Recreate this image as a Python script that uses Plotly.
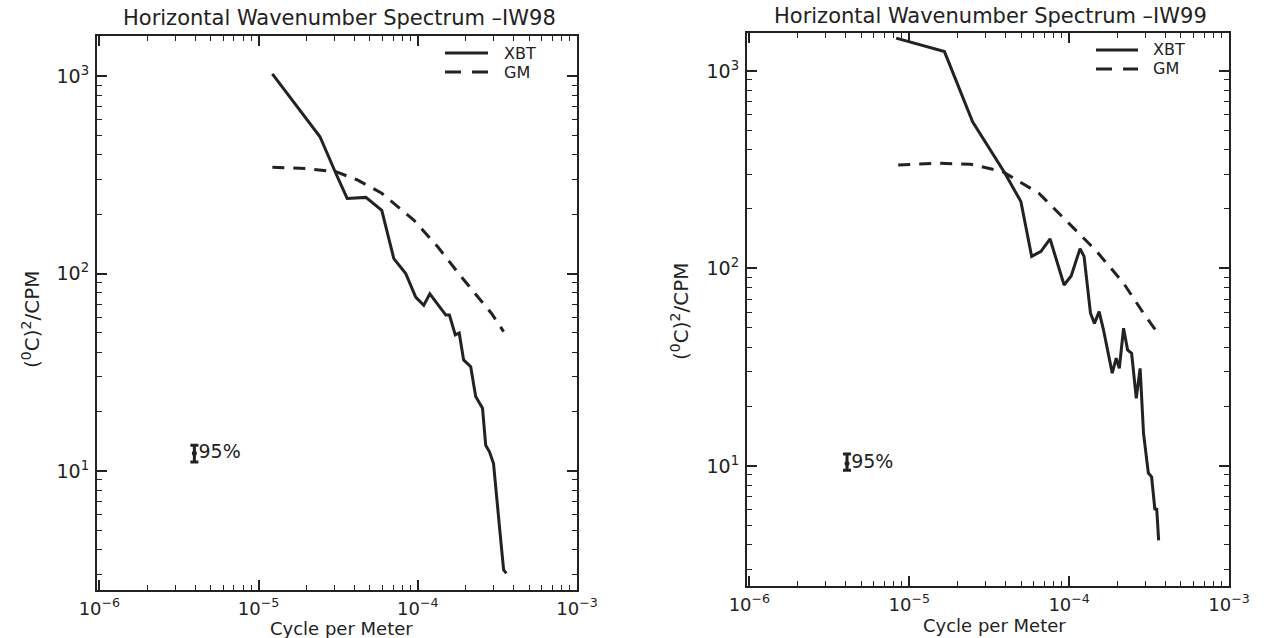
import plotly.graph_objects as go

# ---------------- data ----------------
# IW98 (left panel)
xbt98_k = [1.22e-5, 2.43e-5, 3.06e-5, 3.6e-5, 4.72e-5, 5.94e-5, 7.07e-5, 8.4e-5, 9.7e-5,
           1.09e-4, 1.19e-4, 1.5e-4, 1.58e-4, 1.72e-4, 1.82e-4, 1.94e-4, 2.15e-4, 2.31e-4,
           2.55e-4, 2.67e-4, 2.82e-4, 2.99e-4, 3.26e-4, 3.46e-4, 3.6e-4]
xbt98_s = [1025, 493, 321, 240, 243, 209, 119, 100, 76,
           69, 79, 61.6, 61.6, 48.9, 50, 36.5, 33.7, 23.8,
           20.8, 13.5, 12.5, 10.9, 5.2, 3.15, 3.03]
gm98_k = [1.22e-5, 2.0e-5, 3.06e-5, 4.2e-5, 5.94e-5, 9.4e-5, 1.33e-4, 1.88e-4, 2.9e-4, 3.46e-4]
gm98_s = [345, 340, 328, 297, 255, 187, 137, 96, 62.9, 50.8]

# IW99 (right panel)
xbt99_k = [8.28e-6, 1.66e-5, 2.49e-5, 3.96e-5, 4.99e-5, 5.83e-5, 6.67e-5, 7.6e-5, 9.3e-5,
           1.03e-4, 1.17e-4, 1.24e-4, 1.36e-4, 1.44e-4, 1.54e-4, 1.64e-4, 1.86e-4, 1.97e-4,
           2.06e-4, 2.19e-4, 2.32e-4, 2.46e-4, 2.63e-4, 2.72e-4, 2.78e-4, 2.92e-4, 3.13e-4,
           3.28e-4, 3.44e-4, 3.53e-4, 3.63e-4]
xbt99_s = [1465, 1253, 553, 304, 218, 115, 122, 141, 82.4,
           91.6, 126, 115, 59.3, 52.7, 60.4, 48.9, 29.5, 35.1,
           31.2, 49.8, 38.7, 37.2, 22, 27.2, 31.2, 14.6, 9.2,
           8.8, 6.0, 6.1, 4.2]
gm99_k = [8.53e-6, 1.52e-5, 2.42e-5, 3.84e-5, 6.48e-5, 9.7e-5, 1.46e-4, 2.19e-4, 2.92e-4, 3.53e-4]
gm99_s = [334, 341, 337, 309, 240, 173, 124, 84.2, 59.3, 47.9]

# 95% confidence bars
ci98_k, ci98_s, ci98_up, ci98_dn = [3.95e-6], [12.3], [1.2], [1.2]
ci99_k, ci99_s, ci99_up, ci99_dn = [4.08e-6], [10.3], [1.2], [0.8]

series_names = ["XBT", "GM"]
titles = ["Horizontal Wavenumber Spectrum \u2013IW98", "Horizontal Wavenumber Spectrum \u2013IW99"]
x_title = "Cycle per Meter"
y_title = "(<sup>0</sup>C)<sup>2</sup>/CPM"
ci_label = "95%"
x_tickvals = [1e-6, 1e-5, 1e-4, 1e-3]
x_ticktext = ["10<sup>\u22126</sup>", "10<sup>\u22125</sup>", "10<sup>\u22124</sup>", "10<sup>\u22123</sup>"]
y_tickvals = [10, 100, 1000]
y_ticktext = ["10<sup>1</sup>", "10<sup>2</sup>", "10<sup>3</sup>"]

# ---------------- figure ----------------
INK = "#222222"
FONT = "DejaVu Sans, Verdana, sans-serif"
W, H = 1267, 638
fig = go.Figure()

panels = [
    dict(xa="x", ya="y", xk=xbt98_k, xs=xbt98_s, gk=gm98_k, gs=gm98_s,
         ck=ci98_k, cs=ci98_s, cu=ci98_up, cd=ci98_dn),
    dict(xa="x2", ya="y2", xk=xbt99_k, xs=xbt99_s, gk=gm99_k, gs=gm99_s,
         ck=ci99_k, cs=ci99_s, cu=ci99_up, cd=ci99_dn),
]
for p in panels:
    fig.add_trace(go.Scatter(x=p["xk"], y=p["xs"], mode="lines", name=series_names[0],
                             line=dict(color=INK, width=3), xaxis=p["xa"], yaxis=p["ya"],
                             showlegend=False))
    fig.add_trace(go.Scatter(x=p["gk"], y=p["gs"], mode="lines", name=series_names[1],
                             line=dict(color=INK, width=3, dash="12px,9px"),
                             xaxis=p["xa"], yaxis=p["ya"], showlegend=False))
    fig.add_trace(go.Scatter(x=p["ck"], y=p["cs"], mode="markers+text", text=[ci_label],
                             textposition="middle right",
                             textfont=dict(family=FONT, size=19, color=INK),
                             marker=dict(color=INK, size=5),
                             error_y=dict(type="data", symmetric=False, array=p["cu"],
                                          arrayminus=p["cd"], color=INK, thickness=3, width=4),
                             showlegend=False, xaxis=p["xa"], yaxis=p["ya"]))

minor_x = [m * 10 ** e for e in range(-6, -3) for m in range(2, 10)]
minor_y = [m * 10 ** e for e in range(0, 4) for m in range(2, 10)]

def xaxis(domain, rng, anchor):
    return dict(domain=domain, anchor=anchor, type="log", range=rng, automargin=False,
                tickmode="array", tickvals=x_tickvals, ticktext=x_ticktext,
                ticks="inside", ticklen=10, tickwidth=1.5, tickcolor=INK,
                minor=dict(tickmode="array", tickvals=minor_x, ticks="inside", ticklen=5,
                           tickwidth=1.3, tickcolor=INK, showgrid=False),
                showline=True, linecolor=INK, linewidth=2, mirror="allticks",
                showgrid=False, zeroline=False, ticklabelstandoff=1,
                tickfont=dict(family=FONT, size=18, color=INK))

def yaxis(domain, rng, anchor):
    return dict(domain=domain, anchor=anchor, type="log", range=rng, automargin=False,
                tickmode="array", tickvals=y_tickvals, ticktext=y_ticktext,
                ticks="inside", ticklen=10, tickwidth=1.5, tickcolor=INK,
                minor=dict(tickmode="array", tickvals=minor_y, ticks="inside", ticklen=5,
                           tickwidth=1.3, tickcolor=INK, showgrid=False),
                showline=True, linecolor=INK, linewidth=2, mirror="allticks",
                showgrid=False, zeroline=False, ticklabelstandoff=2,
                tickfont=dict(family=FONT, size=19, color=INK))

def ann(text, px, py, size, angle=0, xanchor="center"):
    return dict(text=text, x=px / W, y=1 - py / H, xref="paper", yref="paper",
                showarrow=False, textangle=angle, xanchor=xanchor, yanchor="middle",
                font=dict(family=FONT, size=size, color=INK))

def key_line(x0, x1, py, dash):
    return dict(type="line", xref="paper", yref="paper", x0=x0 / W, x1=x1 / W,
                y0=1 - py / H, y1=1 - py / H, line=dict(color=INK, width=3, dash=dash))

# hand-placed legend keys (one per panel)
legend_spots = [dict(x0=445, x1=488, tx=502, y=(53, 72)),
                dict(x0=1096, x1=1138, tx=1151, y=(50, 69))]
shapes, anns = [], []
for spot in legend_spots:
    shapes.append(key_line(spot["x0"], spot["x1"], spot["y"][0], "solid"))
    shapes.append(key_line(spot["x0"], spot["x1"], spot["y"][1], "16px,11px"))
    anns.append(ann(series_names[0], spot["tx"], spot["y"][0], 16, xanchor="left"))
    anns.append(ann(series_names[1], spot["tx"], spot["y"][1], 16, xanchor="left"))

anns += [
    ann(titles[0], 339, 18, 21),
    ann(titles[1], 990, 16, 21),
    ann(x_title, 341, 628, 18),
    ann(x_title, 994, 625, 18),
    ann(y_title, 31, 320, 20, -90),
    ann(y_title, 680, 312, 20, -90),
]

fig.update_layout(
    width=W, height=H,
    margin=dict(l=0, r=0, t=0, b=0),
    paper_bgcolor="white", plot_bgcolor="white",
    font=dict(family=FONT, color=INK),
    showlegend=False,
    xaxis=xaxis([97 / W, 577 / W], [-6.015, -3.0], "y"),
    yaxis=yaxis([1 - 590 / H, 1 - 36 / H], [0.397, 3.203], "x"),
    xaxis2=xaxis([747 / W, 1229 / W], [-6.015, -3.0], "y2"),
    yaxis2=yaxis([1 - 586 / H, 1 - 33 / H], [0.392, 3.192], "x2"),
    shapes=shapes,
    annotations=anns,
)

fig.write_html("out.html")
